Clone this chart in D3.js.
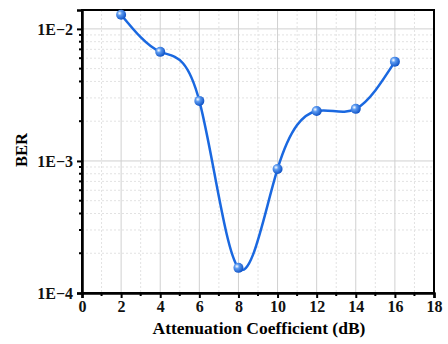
<!DOCTYPE html>
<html>
<head>
<meta charset="utf-8">
<script src="https://cdnjs.cloudflare.com/ajax/libs/d3/7.8.5/d3.min.js"></script>
<style>
  body { margin: 0; background: #fff; }
  text { font-family: "Liberation Serif", "Times New Roman", serif; font-weight: bold; }
</style>
</head>
<body>
<div id="chart"></div>
<script>
// attenuation (dB) vs BER
var attenuation = [2, 4, 6, 8, 10, 12, 14, 16];
var ber = [1.28e-2, 6.7e-3, 2.85e-3, 1.55e-4, 8.7e-4, 2.39e-3, 2.48e-3, 5.65e-3];
var xTicks = [0, 2, 4, 6, 8, 10, 12, 14, 16, 18];
var yTicks = [1e-4, 1e-3, 1e-2];
var yTickLabels = ['1E\u22124', '1E\u22123', '1E\u22122'];

var W = 448, H = 344;
var m = {left: 82, right: 14, top: 10, bottom: 51};

var svg = d3.select('#chart').append('svg')
    .attr('width', W).attr('height', H);

var x = d3.scaleLinear().domain([0, 18]).range([m.left, W - m.right]);
var y = d3.scaleLog().domain([1e-4, 0.0139]).range([H - m.bottom, m.top]);

var defs = svg.append('defs');
var grad = defs.append('radialGradient').attr('id', 'ball')
    .attr('cx', '35%').attr('cy', '35%').attr('r', '65%');
grad.append('stop').attr('offset', '0%').attr('stop-color', '#ffffff');
grad.append('stop').attr('offset', '35%').attr('stop-color', '#5b9af0');
grad.append('stop').attr('offset', '100%').attr('stop-color', '#1356c8');

// minor values
var xMinor = d3.range(1, 18, 2);
var yMinor = [];
[1e-4, 1e-3, 1e-2].forEach(function(d){
    for (var k = 2; k <= 9; k++) {
        var v = d * k;
        if (v <= y.domain()[1]) yMinor.push(v);
    }
});

var grid = svg.append('g');
grid.selectAll('.xminor').data(xMinor).enter().append('line')
    .attr('x1', d => x(d)).attr('x2', d => x(d))
    .attr('y1', m.top).attr('y2', H - m.bottom)
    .attr('stroke', '#e2e2e2').attr('stroke-dasharray', '2,2');
grid.selectAll('.yminor').data(yMinor).enter().append('line')
    .attr('x1', m.left).attr('x2', W - m.right)
    .attr('y1', d => y(d)).attr('y2', d => y(d))
    .attr('stroke', '#e2e2e2').attr('stroke-dasharray', '2,2');
grid.selectAll('.xmajor').data(xTicks.slice(1, -1)).enter().append('line')
    .attr('x1', d => x(d)).attr('x2', d => x(d))
    .attr('y1', m.top).attr('y2', H - m.bottom)
    .attr('stroke', '#d0d0d0');
grid.selectAll('.ymajor').data(yTicks.slice(1)).enter().append('line')
    .attr('x1', m.left).attr('x2', W - m.right)
    .attr('y1', d => y(d)).attr('y2', d => y(d))
    .attr('stroke', '#d0d0d0');

// frame
svg.append('rect')
    .attr('x', m.left).attr('y', m.top)
    .attr('width', W - m.right - m.left).attr('height', H - m.bottom - m.top)
    .attr('fill', 'none').attr('stroke', '#000').attr('stroke-width', 2);

// axes
var xAxis = svg.append('g')
    .attr('transform', 'translate(0,' + (H - m.bottom) + ')')
    .call(d3.axisBottom(x).tickValues(xTicks).tickSize(5).tickPadding(3).tickFormat(d3.format('d')));
xAxis.append('g').selectAll('line').data(xMinor).enter().append('line')
    .attr('x1', d => x(d)).attr('x2', d => x(d))
    .attr('y1', 0).attr('y2', 3).attr('stroke', '#000').attr('stroke-width', 2);

var yAxis = svg.append('g')
    .attr('transform', 'translate(' + m.left + ',0)')
    .call(d3.axisLeft(y).tickValues(yTicks).tickSize(5).tickPadding(4)
        .tickFormat((d, i) => yTickLabels[i]));
yAxis.append('g').selectAll('line').data(yMinor).enter().append('line')
    .attr('x1', 0).attr('x2', -3)
    .attr('y1', d => y(d)).attr('y2', d => y(d))
    .attr('stroke', '#000').attr('stroke-width', 2);

[xAxis, yAxis].forEach(function(a){
    a.select('.domain').attr('stroke-width', 2.5);
    a.selectAll('.tick line').attr('stroke-width', 2);
    a.selectAll('.tick text').attr('font-size', 16).attr('fill', '#111')
        .style('font-family', '"Liberation Serif", serif').style('font-weight', 'bold');
});

svg.append('text')
    .attr('x', 259).attr('y', 334)
    .attr('text-anchor', 'middle').attr('font-size', 17.5)
    .text('Attenuation Coefficient (dB)');

svg.append('text')
    .attr('transform', 'translate(27,150) rotate(-90)')
    .attr('text-anchor', 'middle').attr('font-size', 16.5)
    .text('BER');

// data curve
var pts = attenuation.map((d, i) => [d, ber[i]]);
var line = d3.line()
    .x(d => x(d[0]))
    .y(d => y(d[1]))
    .curve(d3.curveNatural);

svg.append('path')
    .datum(pts)
    .attr('d', line)
    .attr('fill', 'none').attr('stroke', '#1a68e0').attr('stroke-width', 2.5);

svg.selectAll('.pt').data(pts).enter().append('circle')
    .attr('cx', d => x(d[0])).attr('cy', d => y(d[1]))
    .attr('r', 5)
    .attr('fill', 'url(#ball)');
</script>
</body>
</html>
